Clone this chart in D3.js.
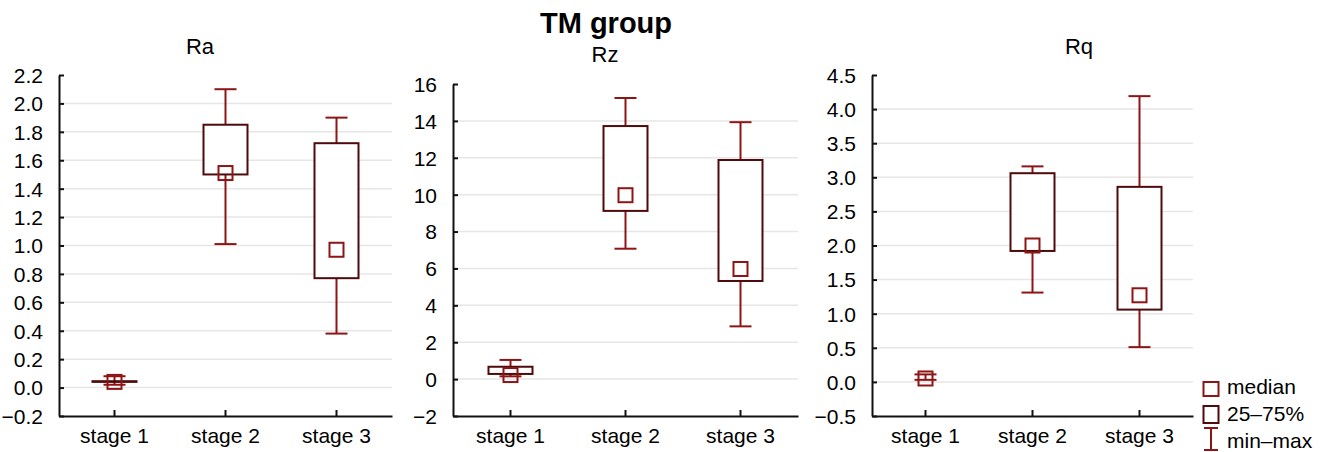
<!DOCTYPE html>
<html>
<head>
<meta charset="utf-8">
<script src="https://cdn.jsdelivr.net/npm/d3@7"></script>
<style>
  body { margin: 0; background: #fff; }
  svg { font-family: Arial, "Liberation Sans", sans-serif; }
  .grid line { stroke: #e6e6e6; stroke-width: 1.5; }
</style>
</head>
<body>
<svg id="chart" width="1335" height="452"></svg>
<script>
// stages on the x axis
var stages = ['stage 1', 'stage 2', 'stage 3'];

// [min, q1, median, q3, max] per stage
var raStats = [[0.02, 0.04, 0.04, 0.045, 0.08], [1.01, 1.50, 1.51, 1.85, 2.10], [0.38, 0.77, 0.97, 1.72, 1.90]];
var rzStats = [[0.15, 0.28, 0.22, 0.67, 1.04], [7.07, 9.12, 9.97, 13.72, 15.24], [2.86, 5.32, 5.97, 11.88, 13.93]];
var rqStats = [[0.03, 0.06, 0.05, 0.06, 0.11], [1.31, 1.92, 2.00, 3.06, 3.16], [0.51, 1.06, 1.27, 2.86, 4.19]];

var raTicks = [-0.2, 0, 0.2, 0.4, 0.6, 0.8, 1.0, 1.2, 1.4, 1.6, 1.8, 2.0, 2.2];
var rzTicks = [-2, 0, 2, 4, 6, 8, 10, 12, 14, 16];
var rqTicks = [-0.5, 0, 0.5, 1.0, 1.5, 2.0, 2.5, 3.0, 3.5, 4.0, 4.5];

var legendItems = ['median', '25\u201375%', 'min\u2013max'];

var whiskerColor = '#8e1515';
var boxColor = '#4f0b0b';

var svg = d3.select('#chart');

svg.append('text')
    .attr('x', 606).attr('y', 33)
    .attr('text-anchor', 'middle')
    .style('font-size', '29px').style('font-weight', 'bold')
    .text('TM group');

var panels = [
    { title: 'Ra', stats: raStats, ticks: raTicks, fmt: d3.format('.1f'), left: 59, right: 392, top: 75, titleX: 200, titleY: 54 },
    { title: 'Rz', stats: rzStats, ticks: rzTicks, fmt: d3.format('d'), left: 453, right: 798, top: 84, titleX: 605, titleY: 62 },
    { title: 'Rq', stats: rqStats, ticks: rqTicks, fmt: d3.format('.1f'), left: 872, right: 1193, top: 75, titleX: 1079, titleY: 54 }
];
var bottom = 416;

panels.forEach(function(p) {
    var g = svg.append('g');
    var ext = d3.extent(p.ticks);
    var y = d3.scaleLinear().domain(ext).range([bottom, p.top]);
    var x = d3.scaleBand().domain(stages).range([p.left, p.right]);

    // gridlines
    g.append('g').attr('class', 'grid')
        .selectAll('line').data(p.ticks.slice(1, -1))
        .enter().append('line')
            .attr('x1', p.left).attr('x2', p.right)
            .attr('y1', d => y(d)).attr('y2', d => y(d));

    var yAxis = g.append('g')
        .attr('transform', 'translate(' + p.left + ',0)')
        .call(d3.axisLeft(y).tickValues(p.ticks).tickFormat(p.fmt).tickSizeInner(-5).tickSizeOuter(0).tickPadding(16));
    var xAxis = g.append('g')
        .attr('transform', 'translate(0,' + bottom + ')')
        .call(d3.axisBottom(x).tickSizeInner(-6).tickSizeOuter(0).tickPadding(12));

    [yAxis, xAxis].forEach(function(a) {
        a.select('.domain').attr('stroke', '#111').attr('stroke-width', 2);
        a.selectAll('.tick line').attr('stroke', '#111').attr('stroke-width', 2);
        a.selectAll('.tick text').attr('fill', '#000').style('font-size', '21px').style('font-family', 'Arial, "Liberation Sans", sans-serif');
    });
    yAxis.selectAll('.tick text').attr('dy', '0.35em');

    g.append('text')
        .attr('x', p.titleX).attr('y', p.titleY)
        .attr('text-anchor', 'middle')
        .style('font-size', '22px').attr('fill', '#000')
        .text(p.title);

    var boxes = g.selectAll('.box').data(p.stats).enter().append('g')
        .attr('transform', (d, i) => 'translate(' + (x(stages[i]) + x.bandwidth() / 2) + ',0)');

    // whiskers
    boxes.append('line')
        .attr('y1', d => y(d[0])).attr('y2', d => y(d[4]))
        .attr('stroke', whiskerColor).attr('stroke-width', 2);
    boxes.selectAll('.cap').data(d => [d[0], d[4]]).enter().append('line')
        .attr('x1', -11).attr('x2', 11)
        .attr('y1', v => y(v)).attr('y2', v => y(v))
        .attr('stroke', whiskerColor).attr('stroke-width', 2);

    // 25-75% box
    boxes.append('rect')
        .attr('x', -22).attr('width', 44)
        .attr('y', d => y(d[3])).attr('height', d => Math.max(0, y(d[1]) - y(d[3])))
        .attr('fill', '#fff')
        .attr('stroke', boxColor).attr('stroke-width', 2);

    // median marker
    boxes.append('rect')
        .attr('x', -7).attr('width', 14)
        .attr('y', d => y(d[2]) - 7).attr('height', 14)
        .attr('fill', 'none')
        .attr('stroke', whiskerColor).attr('stroke-width', 2);
});

// legend
var lg = svg.append('g').attr('transform', 'translate(1211,0)');
var legendY = [394, 421, 448];
lg.append('rect').attr('x', -7.5).attr('y', 382).attr('width', 15).attr('height', 14)
    .attr('fill', 'none').attr('stroke', whiskerColor).attr('stroke-width', 2);
lg.append('rect').attr('x', -7.5).attr('y', 406).attr('width', 15).attr('height', 17)
    .attr('fill', 'none').attr('stroke', boxColor).attr('stroke-width', 2);
lg.append('line').attr('x1', 0).attr('x2', 0).attr('y1', 428).attr('y2', 450)
    .attr('stroke', whiskerColor).attr('stroke-width', 2);
lg.selectAll('.cap').data([428, 450]).enter().append('line')
    .attr('x1', -7).attr('x2', 7).attr('y1', d => d).attr('y2', d => d)
    .attr('stroke', whiskerColor).attr('stroke-width', 2);
lg.selectAll('.lbl').data(legendItems).enter().append('text')
    .attr('x', 16).attr('y', (d, i) => legendY[i])
    .style('font-size', '21px').attr('fill', '#000')
    .text(d => d);
</script>
</body>
</html>
